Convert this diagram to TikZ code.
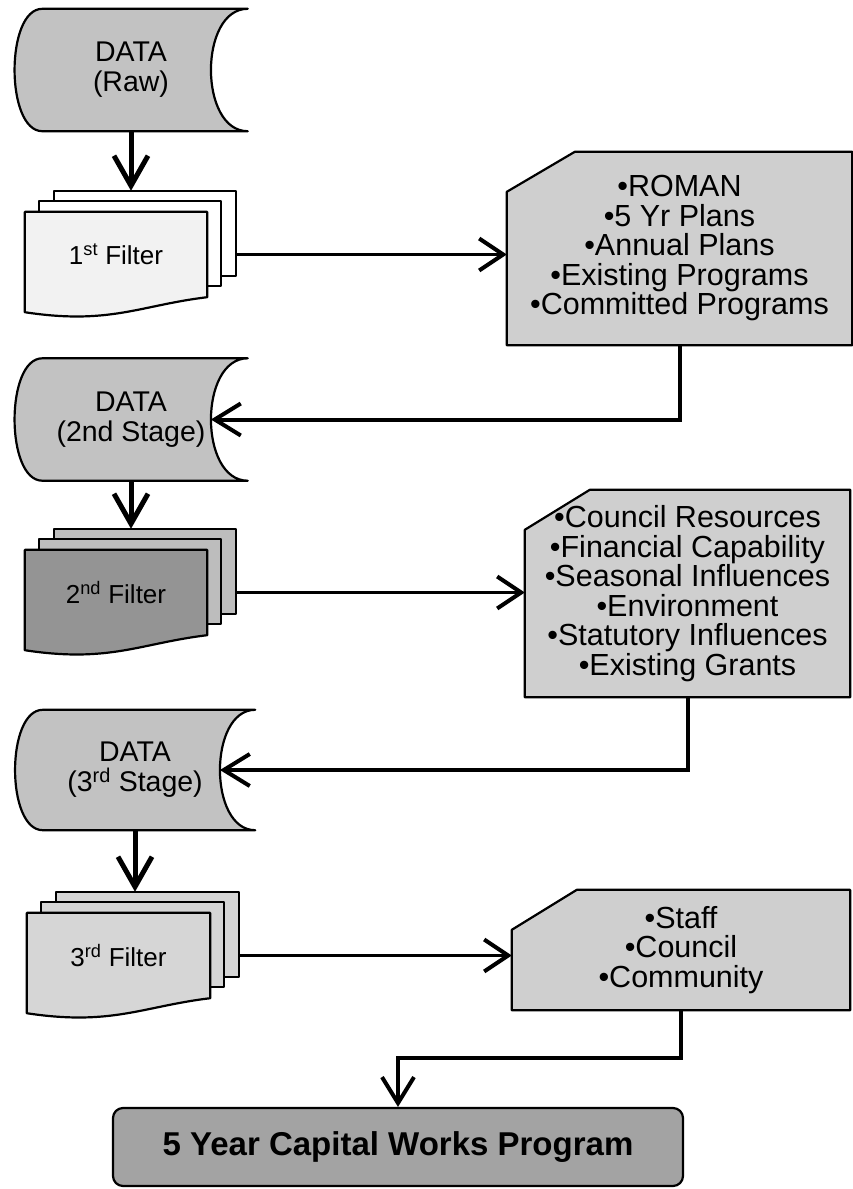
\documentclass[tikz,border=0pt]{standalone}
\usepackage{fontspec}
\setmainfont{Liberation Sans}
\usetikzlibrary{arrows.meta,backgrounds}

\definecolor{datagray}{gray}{0.76}
\definecolor{boxgray}{gray}{0.81}
\definecolor{finalgray}{gray}{0.64}

\newcommand{\storeddata}[2]{%
  \draw[outline, fill=datagray] ([xshift=28pt]#1.north west) -- (#1.north east)
    .. controls ([xshift=-#2]#1.north east) and ([xshift=-#2]#1.south east) .. (#1.south east)
    -- ([xshift=28pt]#1.south west)
    .. controls ([xshift=-9pt]#1.south west) and ([xshift=-9pt]#1.north west) .. cycle;
  \coordinate (#1-in) at ([xshift=-0.75*#2]#1.east);}

\newcommand{\filterstack}[4]{%
  \draw[outline, fill=#2] ([xshift=29pt,yshift=21pt]#1.north west) rectangle ([xshift=29pt,yshift=21pt]#1.south east);
  \draw[outline, fill=#3] ([xshift=14pt,yshift=11pt]#1.north west) rectangle ([xshift=14pt,yshift=11pt]#1.south east);
  \draw[outline, fill=#4] (#1.north west) -- (#1.north east) -- (#1.south east)
    .. controls ([xshift=-67pt,yshift=-8pt]#1.south east) and ([xshift=85pt,yshift=-28pt]#1.south west)
    .. ([yshift=-15pt]#1.south west) -- cycle;
  \coordinate (#1-top) at ([xshift=29pt,yshift=21pt]#1.north);
  \coordinate (#1-right) at ([xshift=29pt]#1.east);}

\newcommand{\listoutline}[3]{%
  \draw[outline, fill=boxgray] ([yshift=-#3]#1.north west) -- ([xshift=#2]#1.north west)
    -- (#1.north east) -- (#1.south east) -- (#1.south west) -- cycle;}

\begin{document}
\begin{tikzpicture}[x=1pt, y=-1pt,
  outline/.style={line width=2.2pt, line join=round},
  datanode/.style={minimum width=233pt, minimum height=122pt, inner sep=0pt, align=center,
    font=\fontsize{28.5}{30}\selectfont},
  filternode/.style={minimum width=182pt, minimum height=85pt, inner sep=0pt,
    font=\fontsize{26}{26}\selectfont},
  listnode/.style={inner sep=0pt, align=center, font=\fontsize{30.5}{29.5}\selectfont},
  bigarrow/.style={line width=5pt, -{Straight Barb[length=30pt,width=34pt]}},
  linkarrow/.style={line width=2.6pt, -{Straight Barb[length=24pt,width=32pt,line width=4pt]}},
  elbow/.style={line width=4pt, -{Straight Barb[length=26pt,width=32pt]}}
]
\useasboundingbox (0,0) rectangle (853,1189);

\node[datanode] (raw) at (131,70) {DATA\\(Raw)};
\node[filternode] (f1) at (116,254.5) {1\textsuperscript{st} Filter};
\node[listnode, minimum width=345pt, minimum height=193pt] (b1) at (679.5,248.5)
  {•ROMAN\\•5 Yr Plans\\•Annual Plans\\•Existing Programs\\•Committed Programs};

\node[datanode] (d2) at (131,419.5) {DATA\\(2nd Stage)};
\node[filternode] (f2) at (116,592.5) {2\textsuperscript{nd} Filter};
\node[listnode, minimum width=325pt, minimum height=207pt] (b2) at (687.5,593.5)
  {•Council Resources\\•Financial Capability\\•Seasonal Influences\\•Environment\\•Statutory Influences\\•Existing Grants};

\node[datanode, minimum width=240pt, minimum height=120pt] (d3) at (135,770) {DATA\\(3\textsuperscript{rd} Stage)};
\node[filternode, minimum width=183pt] (f3) at (118.5,955.5) {3\textsuperscript{rd} Filter};
\node[listnode, minimum width=338pt, minimum height=120pt] (b3) at (681,950)
  {•Staff\\•Council\\•Community};

\node[draw, outline, fill=finalgray, rounded corners=10pt, minimum width=570pt, minimum height=78pt,
  font=\fontsize{33}{33}\selectfont\bfseries] (final) at (398,1147) {5 Year Capital Works Program};

\begin{scope}[on background layer]
\storeddata{raw}{49pt}
\storeddata{d2}{49pt}
\storeddata{d3}{47pt}
\filterstack{f1}{white}{white}{black!5}
\filterstack{f2}{black!26}{black!26}{black!42}
\filterstack{f3}{black!16}{black!16}{black!16}
\listoutline{b1}{68pt}{40pt}
\listoutline{b2}{65pt}{40pt}
\listoutline{b3}{65pt}{40pt}
\end{scope}

\draw[bigarrow] (raw.south) -- (raw.south |- f1-top);
\draw[linkarrow] (f1-right) -- (f1-right -| b1.west);
\draw[elbow] (b1.south) |- (d2-in);

\draw[bigarrow] (d2.south) -- (d2.south |- f2-top);
\draw[linkarrow] (f2-right) -- (f2-right -| b2.west);
\draw[elbow] (b2.south) |- (d3-in);

\draw[bigarrow] (d3.south) -- (d3.south |- f3-top);
\draw[linkarrow] (f3-right) -- (f3-right -| b3.west);
\draw[elbow] (b3.south) -- ++(0,48) -| (final.north);
\end{tikzpicture}
\end{document}
